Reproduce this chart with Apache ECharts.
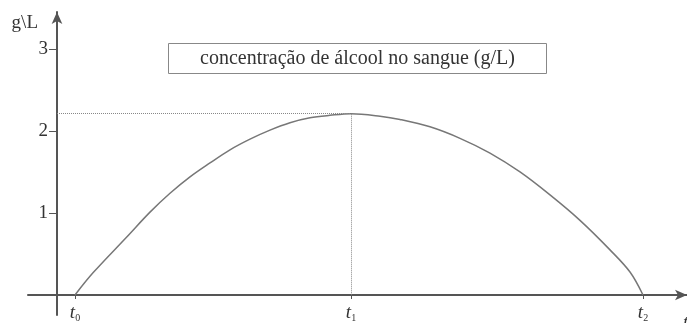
<!DOCTYPE html>
<html>
<head>
<meta charset="utf-8">
<script src="https://cdn.jsdelivr.net/npm/echarts@6/dist/echarts.min.js"></script>
<style>
  html, body { margin: 0; padding: 0; background: #fff; }
  #chart { width: 687px; height: 323px; }
</style>
</head>
<body>
<div id="chart"></div>
<script>
// curve points (x in arbitrary time units, y in g/L)
const timeValues = [1.8, 3.6, 7.0, 9.3, 11.3, 13.3, 15.3, 17.3, 19.3, 21.3, 23.3, 25.3, 27.3, 29.4,
    32.3, 34.3, 37.3, 40.3, 43.3, 46.3, 49.3, 52.3, 55.3, 57.3, 58.6];
const concValues = [0, 0.27, 0.71, 1.01, 1.24, 1.44, 1.61, 1.77, 1.90, 2.01, 2.10, 2.16, 2.19, 2.21,
    2.18, 2.14, 2.05, 1.91, 1.73, 1.50, 1.22, 0.91, 0.55, 0.28, 0];
const timeTicks = [1.8, 29.4, 58.6];
const timeTickLabels = ['0', '1', '2'];
const concTicks = [1, 2, 3];
const peakTime = 29.4;
const peakConc = 2.21;

const serif = '"Liberation Serif", "DejaVu Serif", serif';

var chart = echarts.init(document.getElementById('chart'));
chart.setOption({
    animation: false,
    title: {
        text: 'concentração de álcool no sangue (g/L)',
        left: 168,
        top: 43,
        padding: [6, 32, 5, 32],
        borderColor: '#888',
        borderWidth: 1,
        textStyle: {
            fontFamily: serif,
            fontSize: 20,
            fontWeight: 'normal',
            color: '#333'
        }
    },
    grid: {
        left: 28,
        right: 0,
        top: 12,
        bottom: 8,
        outerBoundsMode: 'none'
    },
    xAxis: {
        type: 'value',
        min: -2.9,
        max: 63,
        splitLine: { show: false },
        name: 't',
        nameLocation: 'end',
        nameGap: -4,
        nameMoveOverlap: false,
        nameTextStyle: {
            fontFamily: serif,
            fontStyle: 'italic',
            fontSize: 19,
            color: '#333',
            verticalAlign: 'top',
            padding: [18, 0, 0, 0]
        },
        axisLine: {
            onZero: false,
            symbol: ['none', 'arrow'],
            symbolSize: [8, 12],
            lineStyle: { color: '#555', width: 2 }
        },
        offset: -20,
        axisTick: {
            show: true,
            customValues: timeTicks,
            length: 4,
            lineStyle: { color: '#555' }
        },
        axisLabel: {
            customValues: timeTicks,
            margin: 8,
            formatter: function (value) {
                let i = timeTicks.indexOf(value);
                return '{t|t}{s|' + timeTickLabels[i] + '}';
            },
            rich: {
                t: { fontFamily: serif, fontStyle: 'italic', fontSize: 19, color: '#333' },
                s: { fontFamily: serif, fontSize: 10, color: '#333', padding: [10, 0, 0, 0] }
            }
        }
    },
    yAxis: {
        type: 'value',
        min: -0.244,
        max: 3.45,
        splitLine: { show: false },
        name: 'g\\L',
        nameLocation: 'end',
        nameGap: -21,
        nameMoveOverlap: false,
        nameTextStyle: {
            fontFamily: serif,
            fontSize: 19,
            color: '#333',
            align: 'right',
            padding: [0, 19, 0, 0]
        },
        axisLine: {
            onZero: false,
            symbol: ['none', 'arrow'],
            symbolSize: [8, 12],
            lineStyle: { color: '#555', width: 2 }
        },
        offset: -29,
        axisTick: {
            show: true,
            customValues: concTicks,
            length: 8,
            lineStyle: { color: '#555' }
        },
        axisLabel: {
            customValues: concTicks,
            margin: 9,
            fontFamily: serif,
            fontSize: 19,
            color: '#333'
        }
    },
    series: [{
        type: 'line',
        data: timeValues.map((t, i) => [t, concValues[i]]),
        smooth: 0.35,
        showSymbol: false,
        lineStyle: { color: '#777', width: 1.5 },
        markLine: {
            silent: true,
            symbol: 'none',
            label: { show: false },
            lineStyle: { type: 'dotted', color: '#888', width: 1 },
            data: [
                [{ coord: [0, peakConc] }, { coord: [peakTime, peakConc] }],
                [{ coord: [peakTime, peakConc] }, { coord: [peakTime, 0] }]
            ]
        }
    }]
});
</script>
</body>
</html>
